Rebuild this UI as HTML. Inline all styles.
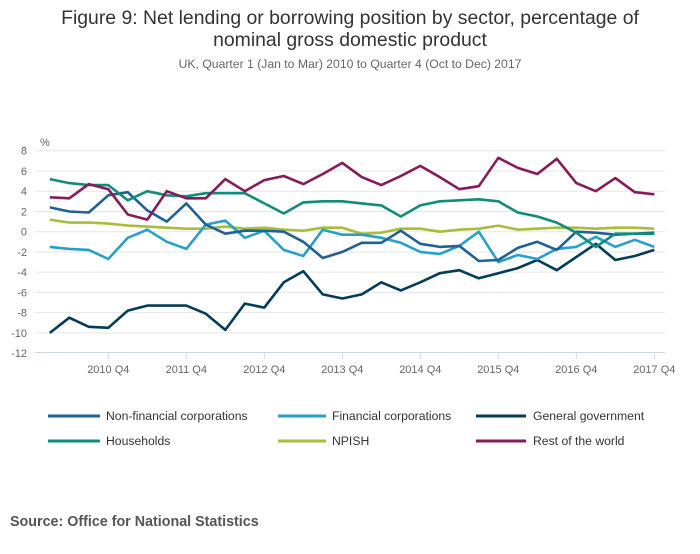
<!DOCTYPE html>
<html><head><meta charset="utf-8"><style>
body{margin:0;background:#fff;}
svg text{font-family:"Liberation Sans",sans-serif;}
</style></head><body>
<svg id="s" width="700" height="549" xmlns="http://www.w3.org/2000/svg">
<text x="350" y="24" text-anchor="middle" font-size="19.4" fill="#333">Figure 9: Net lending or borrowing position by sector, percentage of</text>
<text x="350" y="46" text-anchor="middle" font-size="19.4" fill="#333">nominal gross domestic product</text>
<text x="350" y="68" text-anchor="middle" font-size="12.2" fill="#666">UK, Quarter 1 (Jan to Mar) 2010 to Quarter 4 (Oct to Dec) 2017</text>
<text x="40" y="146" font-size="11" fill="#666">%</text>
<g id="grid"></g>
<g id="lines" fill="none" stroke-width="2.6" stroke-linejoin="round"></g>
<g font-size="12.2" fill="#333">
<line x1="48" y1="416" x2="100" y2="416" stroke="#206095" stroke-width="3"/><text x="106" y="420">Non-financial corporations</text>
<line x1="278" y1="416" x2="326" y2="416" stroke="#27a0cc" stroke-width="3"/><text x="332" y="420">Financial corporations</text>
<line x1="476" y1="416" x2="526" y2="416" stroke="#003c57" stroke-width="3"/><text x="533" y="420">General government</text>
<line x1="48" y1="441" x2="100" y2="441" stroke="#118c7b" stroke-width="3"/><text x="106" y="445">Households</text>
<line x1="278" y1="441" x2="326" y2="441" stroke="#a8bd3a" stroke-width="3"/><text x="332" y="445">NPISH</text>
<line x1="476" y1="441" x2="526" y2="441" stroke="#871a5b" stroke-width="3"/><text x="533" y="445">Rest of the world</text>
</g>
<text x="10" y="526" font-size="14.3" font-weight="bold" fill="#555">Source: Office for National Statistics</text>
</svg>
<script>
var NS="http://www.w3.org/2000/svg";
function el(p,t,a,txt){var e=document.createElementNS(NS,t);for(var k in a)e.setAttribute(k,a[k]);if(txt!==undefined)e.textContent=txt;p.appendChild(e);return e;}
var g=document.getElementById('grid');
function Y(v){return 231.7-v*10.12;}
function X(i){return 49.8+19.5*i;}
for(var v=8;v>=-12;v-=2){var y=Y(v);
 if(v>-12)el(g,'line',{x1:35,x2:665,y1:y,y2:y,stroke:'#e6e6e6','stroke-width':1});
 el(g,'text',{x:27,y:y+4,'text-anchor':'end','font-size':11,fill:'#666'},String(v));}
el(g,'line',{x1:35,x2:665,y1:352.5,y2:352.5,stroke:'#ccd6eb','stroke-width':1});
for(var k=0;k<8;k++){var x=X(3+4*k);
 el(g,'line',{x1:x,x2:x,y1:352,y2:359,stroke:'#ccd6eb','stroke-width':1});
 el(g,'text',{x:x,y:373,'text-anchor':'middle','font-size':11,fill:'#666'},(2010+k)+' Q4');}
var S=[
['#003c57',[-10.0,-8.5,-9.4,-9.5,-7.8,-7.3,-7.3,-7.3,-8.1,-9.7,-7.1,-7.5,-5.0,-3.9,-6.2,-6.6,-6.2,-5.0,-5.8,-5.0,-4.1,-3.8,-4.6,-4.1,-3.6,-2.8,-3.8,-2.5,-1.2,-2.8,-2.4,-1.8]],
['#a8bd3a',[1.2,0.9,0.9,0.8,0.6,0.5,0.4,0.3,0.3,0.5,0.3,0.4,0.2,0.1,0.4,0.4,-0.2,-0.1,0.3,0.3,0,0.2,0.3,0.6,0.2,0.3,0.4,0.4,0.3,0.4,0.4,0.3]],
['#27a0cc',[-1.5,-1.7,-1.8,-2.7,-0.6,0.2,-1.0,-1.7,0.7,1.1,-0.6,0.1,-1.8,-2.4,0.2,-0.3,-0.3,-0.6,-1.1,-2.0,-2.2,-1.4,0,-3.0,-2.3,-2.7,-1.7,-1.5,-0.5,-1.5,-0.8,-1.5]],
['#206095',[2.4,2.0,1.9,3.6,3.9,2.1,1.0,2.8,0.7,-0.2,0.1,0.1,0,-1.0,-2.6,-2.0,-1.1,-1.1,0.1,-1.2,-1.5,-1.4,-2.9,-2.8,-1.6,-1.0,-1.8,0,-0.1,-0.3,-0.2,-0.1]],
['#118c7b',[5.2,4.8,4.6,4.6,3.1,4.0,3.6,3.5,3.8,3.8,3.8,2.8,1.8,2.9,3.0,3.0,2.8,2.6,1.5,2.6,3.0,3.1,3.2,3.0,1.9,1.5,0.9,-0.1,-1.5,-0.2,-0.2,-0.2]],
['#871a5b',[3.4,3.3,4.7,4.2,1.7,1.2,4.0,3.3,3.3,5.2,4.0,5.1,5.5,4.7,5.7,6.8,5.4,4.6,5.5,6.5,5.4,4.2,4.5,7.3,6.3,5.7,7.2,4.8,4.0,5.3,3.9,3.7]]];
var L=document.getElementById('lines');
S.forEach(function(s){el(L,'polyline',{stroke:s[0],points:s[1].map(function(v,i){return X(i).toFixed(1)+','+Y(v).toFixed(1);}).join(' ')});});
</script>
</body></html>
